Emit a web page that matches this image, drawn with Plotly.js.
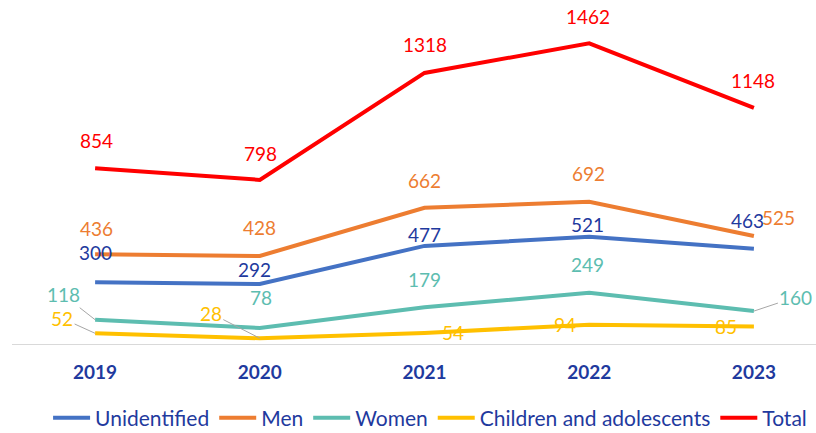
<!DOCTYPE html>
<html>
<head>
<meta charset="utf-8">
<script src="https://cdn.plot.ly/plotly-3.0.1.min.js"></script>
<style>html,body{margin:0;padding:0;background:#fff;}#chart{width:816px;height:433px;}</style>
</head>
<body>
<div id="chart"></div>
<script>
// ---- data ----
const years = ['2019', '2020', '2021', '2022', '2023'];
const unidentified = [300, 292, 477, 521, 463];
const men = [436, 428, 662, 692, 525];
const women = [118, 78, 179, 249, 160];
const children = [52, 28, 54, 94, 85];
const total = [854, 798, 1318, 1462, 1148];
const seriesNames = ['Unidentified', 'Men', 'Women', 'Children and adolescents', 'Total'];

// ---- styles ----
const lineColors = ['#4472C4', '#ED7D31', '#5DBDB0', '#FFC000', '#FF0000'];
const labelColors = ['#1F3A9E', '#ED7D31', '#5DBDB0', '#FFC000', '#FF0000'];
// label offsets [dx, dy] in pixels (dy negative = up); third item = leader line
const offsets = [
  [[0,-30],[-5,-14],[0,-11],[-2,-12],[-6,-28]],
  [[1,-26],[0,-28],[0,-27],[-1,-28],[25,-19]],
  [[-32,-25,true],[1,-30],[0,-28],[-2,-28],[42,-14,true]],
  [[-33,-15,true],[-49,-25,true],[28,0],[-24,0],[-28,0]],
  [[1,-28],[1,-26],[0,-28],[-1,-27],[-1,-27]]
];

const allSeries = [unidentified, men, women, children, total];
const font = 'Lato, "Open Sans", sans-serif';

const traces = allSeries.map((vals, i) => ({
  type: 'scatter', mode: 'lines', x: years, y: vals, name: seriesNames[i],
  line: {color: lineColors[i], width: 4}, hoverinfo: 'skip'
}));

const annotations = [];
allSeries.forEach((vals, i) => {
  vals.forEach((v, j) => {
    const o = offsets[i][j];
    const a = {
      x: j, y: v, xref: 'x', yref: 'y', text: String(v),
      font: {family: font, size: 19, color: labelColors[i]}
    };
    if (o[2]) {
      a.showarrow = true; a.arrowhead = 0; a.arrowwidth = 1; a.arrowcolor = '#A6A6A6';
      a.ax = o[0]; a.ay = o[1]; a.axref = 'pixel'; a.ayref = 'pixel'; a.standoff = 0;
    } else {
      a.showarrow = false; a.xshift = o[0]; a.yshift = -o[1];
    }
    annotations.push(a);
  });
});

const layout = {
  width: 816, height: 433,
  margin: {l: 12, r: 0, t: 10, b: 89, autoexpand: false},
  paper_bgcolor: '#fff', plot_bgcolor: '#fff',
  showlegend: true,
  legend: {orientation: 'h', x: 0.52, xanchor: 'center', y: -0.222, yanchor: 'middle',
    itemwidth: 37, font: {family: font, size: 21, color: '#1F3A9E'}},
  xaxis: {type: 'category', range: [-0.5046, 4.377], showgrid: false, zeroline: false, automargin: false,
    showline: true, linecolor: '#D9D9D9', linewidth: 1,
    ticks: 'outside', ticklen: 11, tickcolor: 'rgba(0,0,0,0)',
    tickfont: {family: font, size: 19, color: '#1F3A9E', weight: 'bold'}},
  yaxis: {range: [0, 1624], showgrid: false, zeroline: false, showticklabels: false, showline: false, automargin: false},
  annotations: annotations
};

Plotly.newPlot('chart', traces, layout, {displayModeBar: false});
</script>
</body>
</html>
